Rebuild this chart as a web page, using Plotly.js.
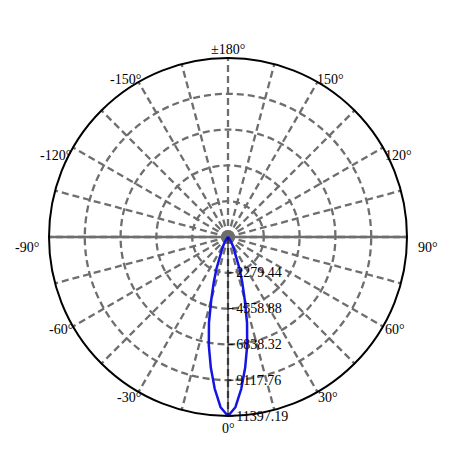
<!DOCTYPE html>
<html>
<head>
<meta charset="utf-8">
<script src="https://cdn.plot.ly/plotly-3.0.1.min.js"></script>
<style>
  html, body { margin: 0; padding: 0; background: #fff; }
  #chart { width: 450px; height: 450px; }
</style>
</head>
<body>
<div id="chart"></div>
<script>
// candela curve (finer steps inside the beam)
const thetaDeg = [
  -180, -120, -60, -50, -45, -40, -37.5, -35, -32.5, -30, -27.5, -25, -22.5,
  -20, -17.5, -15, -12.5, -10, -7.5, -5, -2.5,
  0,
  2.5, 5, 7.5, 10, 12.5, 15, 17.5, 20,
  22.5, 25, 27.5, 30, 32.5, 35, 37.5, 40, 45, 50, 60, 120, 180
];
const intensity = [
  0, 0, 0, 10, 30, 80, 140, 220, 350, 530, 720, 950, 1300,
  2150, 3000, 4100, 5600, 7030, 8380, 9700, 10850,
  11397.19,
  10850, 9700, 8380, 7030, 5600, 4100, 3000, 2150,
  1300, 950, 720, 530, 350, 220, 140, 80, 30, 10, 0, 0, 0
];

const rMax = 11397.19;
const radialTicks = [2279.44, 4558.88, 6838.32, 9117.76, 11397.19];
const radialLabels = ["2279.44", "4558.88", "6838.32", "9117.76", "11397.19"];

const gridAngles = [0, 15, 30, 45, 60, 75, 90, 105, 120, 135, 150, 165,
  180, 195, 210, 225, 240, 255, 270, 285, 300, 315, 330, 345];
const labelAngles = [0, 30, 60, 90, 120, 150, 180, -150, -120, -90, -60, -30];
const labelTexts = ["0°", "30°", "60°", "90°", "120°", "150°", "±180°",
  "-150°", "-120°", "-90°", "-60°", "-30°"];

const serif = "Liberation Serif";

// plot circle in pixels: centre and radius
const W = 450, H = 450;
const cx = 228, cy = 237, R = 179;

// where each angle label sits relative to the circle (px, screen)
const labelShift = {
  0: [0, 12], 30: [10, 5], 60: [12, 3], 90: [21, 10], 120: [15, 8], 150: [13, -2],
  180: [0, -9], "-150": [-13, -2], "-120": [-17, 8], "-90": [-22, 10], "-60": [-12, 3], "-30": [-10, 5],
};

const annotations = labelAngles.map((deg, i) => {
  const a = deg * Math.PI / 180;
  const px = cx + R * Math.sin(a) + labelShift[deg][0];
  const py = cy + R * Math.cos(a) + labelShift[deg][1];
  return {
    xref: "paper", yref: "paper",
    x: px / W, y: 1 - py / H,
    xanchor: "center", yanchor: "middle",
    text: labelTexts[i],
    showarrow: false,
    font: { family: serif, size: 14, color: "#000" },
  };
});

const crossLine = {
  type: "scatterpolar",
  r: [rMax, 0, rMax],
  theta: [90, 0, 270],
  mode: "lines",
  line: { color: "#6e6e6e", width: 2.5 },
  hoverinfo: "skip",
  showlegend: false,
};

const curve = {
  type: "scatterpolar",
  r: intensity,
  theta: thetaDeg,
  mode: "lines",
  line: { color: "#1414e6", width: 2.5 },
  showlegend: false,
};

const layout = {
  width: W,
  height: H,
  margin: { l: 0, r: 0, t: 0, b: 0 },
  paper_bgcolor: "#ffffff",
  font: { family: serif, size: 14, color: "#000" },
  showlegend: false,
  annotations: annotations,
  polar: {
    domain: { x: [(cx - R) / W, (cx + R) / W], y: [1 - (cy + R) / H, 1 - (cy - R) / H] },
    bgcolor: "#ffffff",
    angularaxis: {
      rotation: 270,
      direction: "counterclockwise",
      tickmode: "array",
      tickvals: gridAngles,
      showticklabels: false,
      ticks: "",
      showline: true,
      linecolor: "#000",
      linewidth: 2,
      showgrid: true,
      gridcolor: "#6e6e6e",
      gridwidth: 2.3,
      griddash: "7px,4px",
    },
    radialaxis: {
      range: [0, rMax],
      angle: 270,
      side: "counterclockwise",
      tickangle: -90,
      tickmode: "array",
      tickvals: radialTicks,
      ticktext: radialLabels,
      ticks: "outside",
      ticklen: 5,
      tickcolor: "#000",
      showline: true,
      linecolor: "#000",
      linewidth: 1,
      showgrid: true,
      gridcolor: "#6e6e6e",
      gridwidth: 2.3,
      griddash: "7px,4px",
      tickfont: { family: serif, size: 14, color: "#000" },
    },
  },
};

Plotly.newPlot("chart", [crossLine, curve], layout, { displayModeBar: false, staticPlot: true });
</script>
</body>
</html>
